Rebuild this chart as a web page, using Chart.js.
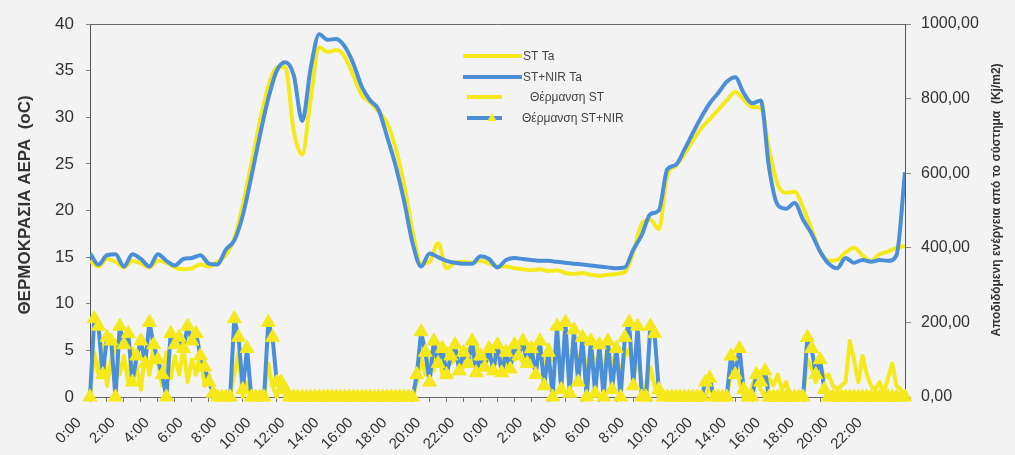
<!DOCTYPE html>
<html><head><meta charset="utf-8">
<script src="https://cdn.jsdelivr.net/npm/chart.js@4.4.0/dist/chart.umd.min.js"></script>
<style>html,body{margin:0;padding:0;background:#f3f3f3;overflow:hidden}#wrap{width:1015px;height:455px}</style>
</head><body><div id="wrap"><canvas id="c" width="1015" height="455"></canvas></div>
<script>
// ---- data ----
const timeLabels = ['0:00','2:00','4:00','6:00','8:00','10:00','12:00','14:00','16:00','18:00','20:00','22:00',
                    '0:00','2:00','4:00','6:00','8:00','10:00','12:00','14:00','16:00','18:00','20:00','22:00'];
const seriesNames = ['ST Ta','ST+NIR Ta','Θέρμανση ST','Θέρμανση ST+NIR'];
const leftTitle = 'ΘΕΡΜΟΚΡΑΣΙΑ ΑΕΡΑ  (oC)';
const rightTitle = 'Αποδιδόμενη ενέργεια από το σύστημα  (Kj/m2)';

// temperatures, one value every 0.5 h from 0 to 48 h
const tempStep = 0.5;
const stTa = [
 14.6,14.0,14.8,14.5,13.9,14.6,14.3,13.9,14.6,14.4,13.9,13.7,13.8,14.2,14.0,14.5,
 15.2,17.0,20.6,25.0,29.5,33.3,35.3,35.4,28.5,26.0,32.0,37.5,37.0,37.2,36.5,34.5,
 32.4,31.6,30.6,29.4,26.7,22.8,17.8,14.3,14.5,16.5,13.8,14.4,14.5,14.4,14.6,14.3,
 14.0,14.0,13.8,13.7,13.6,13.7,13.5,13.6,13.3,13.2,13.3,13.1,13.0,13.1,13.2,13.4,
 15.5,18.6,19.0,18.0,23.8,24.8,26.0,27.5,28.8,29.8,30.8,31.8,32.7,31.9,31.1,31.0,
 26.5,22.8,21.9,22.0,20.3,18.0,15.6,14.6,14.7,15.5,16.0,15.2,14.6,15.3,15.6,16.0,
 16.2];
const nirTa = [
 15.4,14.2,15.2,15.3,14.0,15.3,14.8,14.0,15.3,14.6,14.1,14.8,14.9,15.2,14.3,14.2,
 15.8,16.8,19.5,23.6,28.0,32.0,35.0,35.9,34.5,29.6,35.3,38.9,38.3,38.4,37.6,35.8,
 33.3,31.8,30.8,27.9,24.8,21.0,16.5,14.0,15.4,15.0,14.6,14.4,14.3,14.3,15.1,14.8,
 13.9,14.7,14.9,14.8,14.7,14.6,14.6,14.5,14.4,14.3,14.2,14.1,14.0,13.9,13.8,13.9,
 15.8,17.4,19.6,20.0,24.4,24.9,26.5,28.3,30.0,31.5,32.6,33.8,34.3,32.6,31.5,31.8,
 24.5,20.6,20.2,20.8,19.0,17.5,15.6,14.3,13.8,14.9,14.4,14.7,14.5,14.7,14.6,15.2,
 24.1];

// heating energy (right axis), one value every 0.25 h from 0 to 48 h
const heatStep = 0.25;
const heatST = [
 0,120,60,140,30,100,150,60,   110,40,130,80,20,120,60,140,
 90,30,120,50,110,60,130,40,   100,60,120,30,60,20,0,0,
 0,0,60,120,0,40,0,0,          0,0,90,30,0,50,0,0,
 0,0,0,0,0,0,0,0,              0,0,0,0,0,0,0,0,
 0,0,0,0,0,0,0,0,              0,0,0,0,0,40,110,60,
 120,70,140,60,130,90,100,120, 80,130,100,140,90,120,100,130,
 90,120,80,130,100,120,90,140, 100,130,110,90,140,100,120,80,
 130,90,140,100,120,80,130,90, 110,70,140,90,120,60,110,130,
 60,100,40,0,80,30,0,0,        0,0,0,0,0,0,0,0,
 0,0,30,0,0,0,0,60,            90,40,0,0,30,60,20,0,
 50,30,60,20,40,0,0,0,         0,100,80,40,90,50,60,30,
 20,30,40,150,100,40,110,60,   30,20,40,10,50,90,30,20,
 0];
const heatNIR = [
 0,210,190,60,160,150,0,190,   140,170,40,110,150,90,200,140,
 100,60,0,170,140,160,130,190, 150,170,110,80,40,10,0,0,
 0,0,210,160,20,130,0,0,       0,0,200,160,40,40,20,0,
 0,0,0,0,0,0,0,0,              0,0,0,0,0,0,0,0,
 0,0,0,0,0,0,0,0,              0,0,0,0,0,60,175,120,
 40,150,90,130,60,110,140,70,  120,90,150,65,110,80,130,70,
 140,65,120,75,140,110,150,90, 130,60,150,30,120,0,190,20,
 200,10,180,40,160,0,150,10,   140,0,150,20,130,0,160,200,
 30,190,0,0,190,170,20,0,      0,0,0,0,0,0,0,0,
 0,40,50,0,0,0,0,110,          60,130,20,0,0,60,40,70,
 0,0,0,0,0,0,0,0,              0,160,130,60,100,20,0,0,
 0,0,0,0,0,0,0,0,              0,0,0,0,0,0,0,0,
 0];

// ---- styles ----
const YELLOW = '#f5e91c';
const BLUE = '#4a8fd8';
const FONT = '"Liberation Sans", Arial, sans-serif';

const toPts = (arr, step) => arr.map((v, i) => ({x: i * step, y: v}));

const decor = {
  id: 'decor',
  beforeDraw(chart) {
    const c = chart.ctx;
    c.save();
    c.fillStyle = '#f3f3f3';
    c.fillRect(0, 0, chart.width, chart.height);
    c.restore();
  },
  beforeDatasetsDraw(chart) {
    const a = chart.chartArea, c = chart.ctx;
    c.save();
    c.strokeStyle = '#6a6a6a';
    c.lineWidth = 1;
    c.beginPath();
    c.moveTo(a.left, a.top + 0.5); c.lineTo(a.right, a.top + 0.5);
    c.stroke();
    c.restore();
  },
  afterDraw(chart) {
    const c = chart.ctx;
    c.save();
    // axis titles
    c.fillStyle = '#333';
    c.textAlign = 'center';
    c.textBaseline = 'middle';
    c.font = 'bold 17px ' + FONT;
    c.translate(25, 205); c.rotate(-Math.PI / 2);
    c.fillText(leftTitle, 0, 0);
    c.setTransform(1, 0, 0, 1, 0, 0);
    c.font = 'bold 12px ' + FONT;
    c.translate(997, 200); c.rotate(-Math.PI / 2);
    c.fillText(rightTitle, 0, 0);
    c.setTransform(1, 0, 0, 1, 0, 0);
    // legend
    const items = [
      {x0: 463, x1: 522, y: 56, tx: 523, col: YELLOW},
      {x0: 463, x1: 522, y: 77, tx: 523, col: BLUE},
      {x0: 467, x1: 502, y: 97, tx: 530, col: YELLOW},
      {x0: 467, x1: 502, y: 118, tx: 522, col: BLUE, tri: true}
    ];
    c.font = '12px ' + FONT;
    c.textAlign = 'left';
    items.forEach((it, i) => {
      c.strokeStyle = it.col; c.lineWidth = 4; c.lineCap = 'butt';
      c.beginPath(); c.moveTo(it.x0, it.y); c.lineTo(it.x1, it.y); c.stroke();
      if (it.tri) {
        c.fillStyle = YELLOW;
        c.beginPath();
        c.moveTo(492, it.y - 5); c.lineTo(496.5, it.y + 3); c.lineTo(487.5, it.y + 3);
        c.closePath(); c.fill();
      }
      c.fillStyle = '#444';
      c.fillText(seriesNames[i], it.tx, it.y + 1);
    });
    c.restore();
  }
};

new Chart(document.getElementById('c'), {
  type: 'line',
  data: {
    datasets: [
      {label: seriesNames[1], data: toPts(nirTa, tempStep), yAxisID: 'y', borderColor: BLUE, borderWidth: 4,
       pointRadius: 0, cubicInterpolationMode: 'monotone', borderJoinStyle: 'round', order: 0},
      {label: seriesNames[0], data: toPts(stTa, tempStep), yAxisID: 'y', borderColor: YELLOW, borderWidth: 4,
       pointRadius: 0, cubicInterpolationMode: 'monotone', borderJoinStyle: 'round', order: 1},
      {label: seriesNames[3], data: toPts(heatNIR, heatStep), yAxisID: 'y1', borderColor: BLUE, borderWidth: 4,
       borderJoinStyle: 'round',
       pointStyle: 'triangle', pointRadius: 8, pointBackgroundColor: YELLOW, pointBorderColor: YELLOW,
       pointBorderWidth: 1, tension: 0, clip: false, order: 2},
      {label: seriesNames[2], data: toPts(heatST, heatStep), yAxisID: 'y1', borderColor: YELLOW, borderWidth: 4,
       borderJoinStyle: 'round', pointRadius: 0, tension: 0, clip: false, order: 3}
    ]
  },
  options: {
    responsive: false, animation: false, devicePixelRatio: 1,
    layout: {padding: {top: 24, left: 0, right: 0, bottom: 0}},
    plugins: {legend: {display: false}, tooltip: {enabled: false}},
    scales: {
      x: {
        type: 'linear', min: 0, max: 48, position: 'bottom',
        afterFit(s) { s.height = 58; },
        ticks: {
          stepSize: 1, autoSkip: false, maxRotation: 45, minRotation: 45, padding: 12, labelOffset: -11,
          color: '#333', font: {family: FONT, size: 15},
          callback: (v) => (v % 2 === 0 && v < 48) ? timeLabels[v / 2] : ''
        },
        grid: {drawOnChartArea: false, drawTicks: true, tickLength: 5, color: '#777'},
        border: {display: true, color: '#666'}
      },
      y: {
        position: 'left', min: 0, max: 40,
        afterFit(s) { s.width = 90; },
        ticks: {stepSize: 5, padding: 12, color: '#333', font: {family: FONT, size: 17}},
        grid: {drawOnChartArea: false, tickLength: 4, color: '#888'},
        border: {display: true, color: '#555'}
      },
      y1: {
        position: 'right', min: 0, max: 1000,
        afterFit(s) { s.width = 110; },
        ticks: {stepSize: 200, padding: 10, color: '#333', font: {family: FONT, size: 16},
          callback: (v) => v.toFixed(2).replace('.', ',')},
        grid: {drawOnChartArea: false, tickLength: 6, color: '#888'},
        border: {display: true, color: '#555'}
      }
    }
  },
  plugins: [decor]
});
</script>
</body></html>
